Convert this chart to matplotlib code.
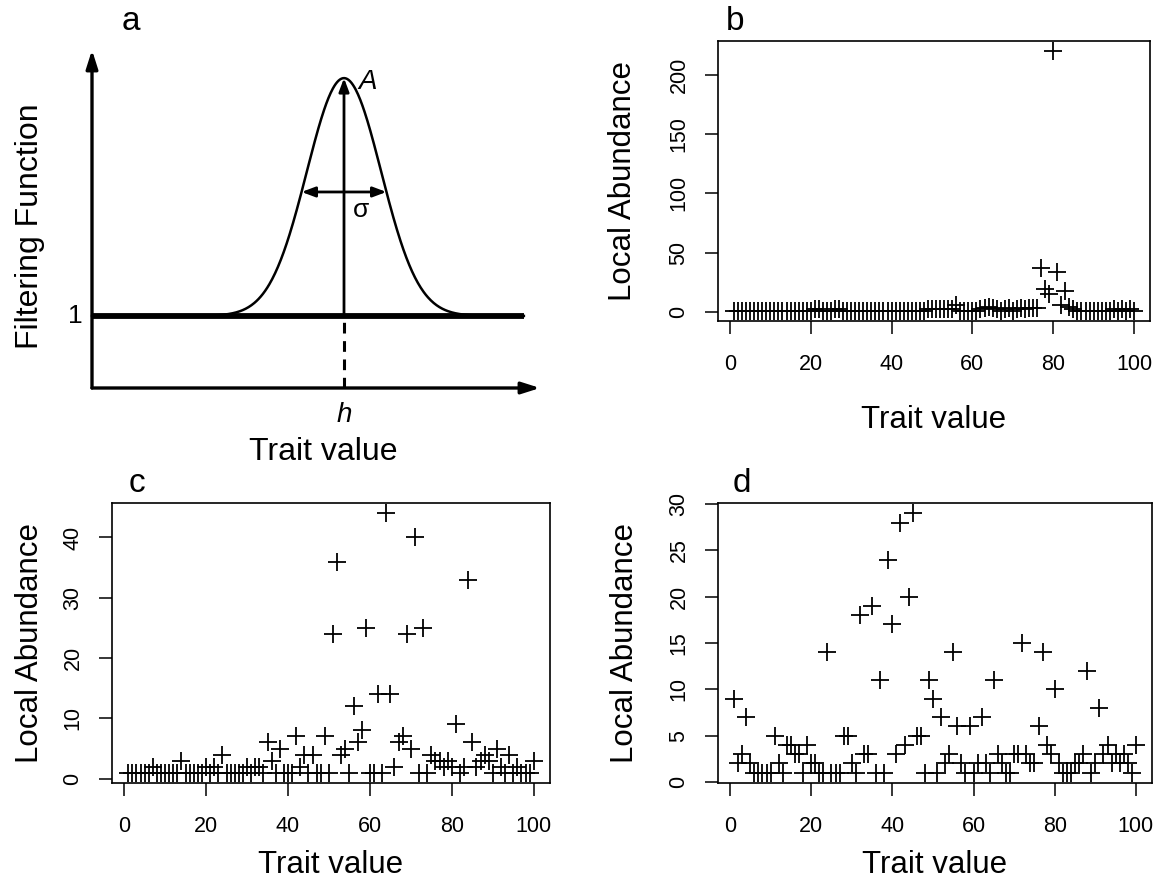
import numpy as np
import matplotlib
matplotlib.use("Agg")
import matplotlib.pyplot as plt

plt.rcParams["font.family"] = ["Liberation Sans", "DejaVu Sans"]

########################################################
# DATA
########################################################

trait = list(range(1, 101))

abund_b = [1, 1, 1, 1, 1, 1, 1, 1, 1, 1,
           1, 1, 1, 1, 1, 1, 1, 1, 1, 1,
           2, 2, 1, 1, 1, 2, 2, 1, 1, 1,
           1, 1, 1, 1, 1, 1, 1, 1, 1, 1,
           1, 1, 1, 1, 1, 1, 1, 1, 2, 2,
           2, 2, 2, 2, 2, 6, 1, 1, 1, 1,
           1, 2, 3, 4, 3, 2, 1, 2, 3, 1,
           2, 3, 2, 3, 3, 3, 37, 19, 15, 220,
           34, 6, 18, 4, 2, 1, 1, 1, 1, 1,
           1, 1, 1, 1, 2, 1, 2, 1, 2, 1]

abund_c = [1, 1, 1, 1, 1, 1, 2, 1, 1, 1,
           1, 1, 1, 3, 1, 1, 1, 1, 1, 2,
           1, 2, 1, 4, 1, 1, 1, 1, 1, 2,
           1, 2, 2, 1, 6, 3, 1, 5, 1, 1,
           1, 7, 2, 4, 1, 4, 1, 1, 7, 1,
           24, 36, 4, 5, 1, 12, 6, 8, 25, 1,
           1, 14, 1, 44, 14, 2, 6, 7, 24, 5,
           40, 1, 25, 1, 4, 3, 3, 2, 3, 2,
           9, 1, 2, 33, 6, 2, 3, 4, 3, 1,
           5, 2, 1, 4, 1, 2, 1, 1, 1, 3]

abund_d = [9, 2, 3, 7, 2, 1, 1, 1, 1, 1,
           5, 2, 1, 4, 4, 3, 3, 1, 4, 2,
           2, 1, 1, 14, 1, 1, 1, 5, 5, 2,
           1, 18, 3, 3, 19, 1, 11, 1, 24, 17,
           3, 28, 4, 20, 29, 5, 5, 1, 11, 9,
           1, 7, 2, 3, 14, 6, 2, 1, 6, 1,
           2, 7, 2, 1, 11, 3, 2, 1, 1, 3,
           3, 15, 3, 2, 2, 6, 14, 4, 3, 10,
           2, 1, 1, 1, 2, 2, 3, 12, 1, 2,
           8, 3, 4, 2, 3, 2, 3, 2, 1, 4]

# schematic filtering function (panel a)
h_opt = 56.25      # optimum trait value
A_max = 4.3        # max filtering value
sigma = 8.3        # width
x_end = 96.4
arrow_y = 2.72

########################################################
# FIGURE
########################################################

W, H = 1160, 885
fig = plt.figure(figsize=(W / 100, H / 100), dpi=100)


def box(l, t, r, b):
    return [l / W, 1 - b / H, (r - l) / W, (b - t) / H]


# ---------------- panel a ----------------

axa = fig.add_axes(box(92, 50, 540, 388))
axa.set_xlim(0, 100)
axa.set_ylim(0, 4.69)
axa.axis("off")

xs = np.linspace(0, x_end, 600)
fs = 1 + (A_max - 1) * np.exp(-(xs - h_opt) ** 2 / (2 * sigma ** 2))

axa.plot([0, x_end], [1, 1], color="k", lw=4.2, solid_capstyle="butt",
         clip_on=False)
axa.plot(xs, fs, color="k", lw=1.8, clip_on=False)

axa.annotate("", xy=(0, 4.69), xytext=(0, 0),
             arrowprops=dict(arrowstyle="-|>,head_length=1.1,head_width=0.35",
                             lw=2.4, color="k", shrinkA=0, shrinkB=0),
             annotation_clip=False)
axa.annotate("", xy=(100, 0), xytext=(0, 0),
             arrowprops=dict(arrowstyle="-|>,head_length=1.1,head_width=0.35",
                             lw=2.4, color="k", shrinkA=0, shrinkB=0),
             annotation_clip=False)
axa.annotate("", xy=(h_opt, A_max), xytext=(h_opt, 1),
             arrowprops=dict(arrowstyle="-|>,head_length=0.8,head_width=0.3",
                             lw=2.0, color="k", shrinkA=0, shrinkB=0),
             annotation_clip=False)
axa.plot([h_opt, h_opt], [0, 1], color="k", lw=2.2, ls=(0, (3.5, 2.5)),
         clip_on=False)

d = sigma * np.sqrt(2 * np.log((A_max - 1) / (arrow_y - 1)))
axa.annotate("", xy=(h_opt + d, arrow_y), xytext=(h_opt - d, arrow_y),
             arrowprops=dict(arrowstyle="<|-|>,head_length=0.8,head_width=0.3",
                             lw=2.0, color="k", shrinkA=0, shrinkB=0),
             annotation_clip=False)

axa.text(h_opt + 3.9, 2.47, "σ", fontsize=19, ha="center", va="center")
axa.text(h_opt + 5.3, 4.25, "A", fontsize=20, style="italic",
         ha="center", va="center")
axa.text(h_opt, -0.37, "h", fontsize=20, style="italic",
         ha="center", va="center")
axa.text(-2.0, 1.0, "1", fontsize=19, ha="right", va="center")
axa.text(51.6, -0.89, "Trait value", fontsize=23, ha="center", va="center")
axa.text(-13.8, 2.25, "Filtering Function", fontsize=23, rotation=90,
         ha="center", va="center")

fig.text(131 / W, 1 - 22 / H, "a", fontsize=24, ha="center", va="center")

# ---------------- panels b, c, d ----------------

panels = [
    ("b", abund_b, box(718, 41, 1150, 321), [0, 50, 100, 150, 200],
     (735, 22), -0.22, -0.354),
    ("c", abund_c, box(112, 503, 550, 783), [0, 10, 20, 30, 40],
     (137, 484), -0.187, -0.293),
    ("d", abund_d, box(718, 503, 1152, 783), [0, 5, 10, 15, 20, 25, 30],
     (742, 484), -0.214, -0.293),
]

for letter, vals, pos, yt, lab, ylab_x, xlab_y in panels:

    ax = fig.add_axes(pos)

    ax.scatter(trait, vals, marker="+", s=160, color="k", linewidths=1.3)

    # R style 4% padding
    xr = max(trait) - min(trait)
    ax.set_xlim(min(trait) - 0.04 * xr, max(trait) + 0.04 * xr)
    yr = max(vals) - min(vals)
    ax.set_ylim(min(vals) - 0.04 * yr, max(vals) + 0.04 * yr)

    ax.set_xticks([0, 20, 40, 60, 80, 100])
    ax.set_yticks(yt)
    ax.tick_params(axis="both", direction="out", length=9.5, width=1.1,
                   labelsize=15.5)
    ax.tick_params(axis="x", pad=14)
    ax.tick_params(axis="y", pad=11)
    for t in ax.get_yticklabels():
        t.set_rotation(90)
        t.set_va("center")

    for s in ax.spines.values():
        s.set_linewidth(1.2)

    ax.set_xlabel("Trait value", fontsize=22.5, va="center")
    ax.set_ylabel("Local Abundance", fontsize=22.5, va="center")
    ax.xaxis.set_label_coords(0.5, xlab_y)
    ax.yaxis.set_label_coords(ylab_x, 0.5)

    fig.text(lab[0] / W, 1 - lab[1] / H, letter, fontsize=24,
             ha="center", va="center")

plt.savefig("out.png", dpi=100)
